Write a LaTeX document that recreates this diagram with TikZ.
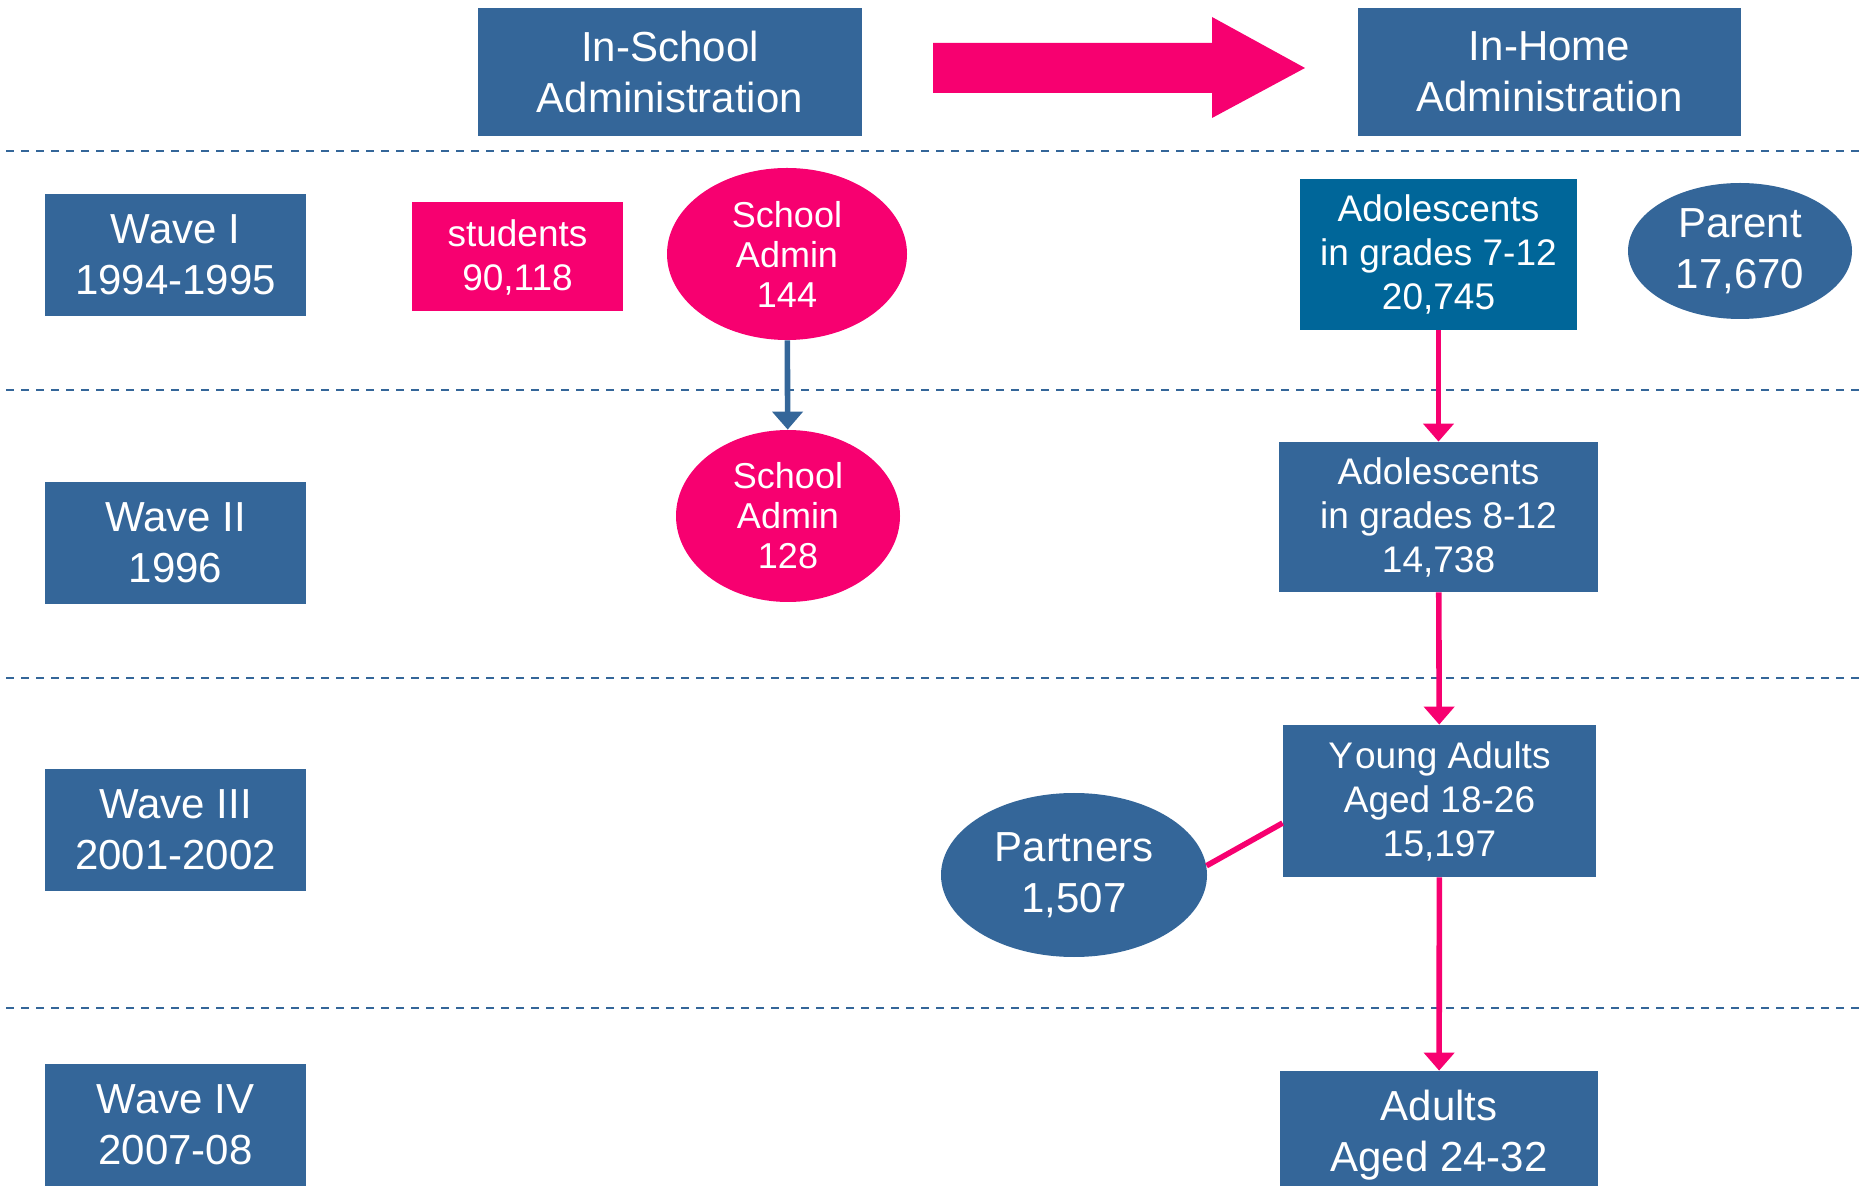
\documentclass[tikz,border=0pt]{standalone}
\usepackage{fontspec}
\setmainfont{Liberation Sans}
\usetikzlibrary{arrows.meta,shapes.geometric}
\definecolor{addblue}{RGB}{52,102,153}
\definecolor{addteal}{RGB}{0,102,153}
\definecolor{addpink}{RGB}{247,0,112}

\begin{document}
\begin{tikzpicture}[
  x=0.5pt,y=-0.5pt,
  >={Triangle[width=15pt,length=9pt]},
  box/.style={fill=addblue,text=white,align=center,inner sep=0pt},
  big/.style={font=\fontsize{21}{25.5}\selectfont},
  small/.style={font=\fontsize{18.5}{22}\selectfont},
  wave/.style={box,big,minimum width=130.5pt,minimum height=61pt},
  oval/.style={ellipse,text=white,align=center,inner sep=0pt},
  sep/.style={addblue,line width=0.8pt,dash pattern=on 4pt off 3.5pt},
  flow/.style={->,addpink,line width=2.8pt},
]
\useasboundingbox (0,0) rectangle (1869,1186);

% wave separators
\foreach \y in {151,390,678,1008}
  \draw[sep] (6,\y) -- (1863,\y);

% column heads
\node[box,big,minimum width=192pt,minimum height=64pt] (inschool) at (670,72) {In-School\\Administration};
\node[box,big,minimum width=191.5pt,minimum height=64pt] (inhome) at (1549.5,72) {In-Home\\Administration};
\fill[addpink] (933,43) -- (1212,43) -- (1212,17) -- (1305,68) -- (1212,118) -- (1212,93) -- (933,93) -- cycle;

% waves
\node[wave] (wave1) at (175.5,255) {Wave I\\1994-1995};
\node[wave] (wave2) at (175.5,543) {Wave II\\1996};
\node[wave] (wave3) at (175.5,830) {Wave III\\2001-2002};
\node[wave] (wave4) at (175.5,1125) {Wave IV\\2007-08};

% in-school
\node[box,small,fill=addpink,minimum width=105.5pt,minimum height=54.5pt] (students) at (517.5,257) {students\\90,118};
\node[oval,fill=addpink,font=\fontsize{18}{20}\selectfont,minimum width=120pt,minimum height=86pt] (sadmin1) at (787,254) {School\\Admin\\144};
\node[oval,fill=addpink,font=\fontsize{18}{20}\selectfont,minimum width=112pt,minimum height=86pt] (sadmin2) at (788,516) {School\\Admin\\128};
\draw[->,addblue,line width=2.8pt] (sadmin1) -- (sadmin2);

% in-home
\node[box,small,fill=addteal,minimum width=138.5pt,minimum height=75.5pt] (adol1) at (1438.5,254.5) {Adolescents\\in grades 7-12\\20,745};
\node[oval,big,fill=addblue,minimum width=112pt,minimum height=68pt] (parent) at (1740,251) {Parent\\17,670};
\node[box,small,minimum width=159.5pt,minimum height=75pt] (adol2) at (1438.5,517) {Adolescents\\in grades 8-12\\14,738};
\node[box,small,minimum width=156.5pt,minimum height=76pt] (young) at (1439.5,801) {Y\kern1pt oung Adults\\Aged 18-26\\15,197};
\node[oval,big,fill=addblue,minimum width=133pt,minimum height=82pt] (partners) at (1074,875) {Partners\\1,507};
\node[box,big,minimum width=159pt,minimum height=64pt] (adults) at (1439,1135) {Adults\\Aged 24-32};
\draw[flow] (adol1) -- (adol2);
\draw[flow] (adol2) -- (young);
\draw[flow] (young) -- (adults);
\draw[addpink,line width=2.8pt] (partners.4) -- (young.188);
\end{tikzpicture}
\end{document}
